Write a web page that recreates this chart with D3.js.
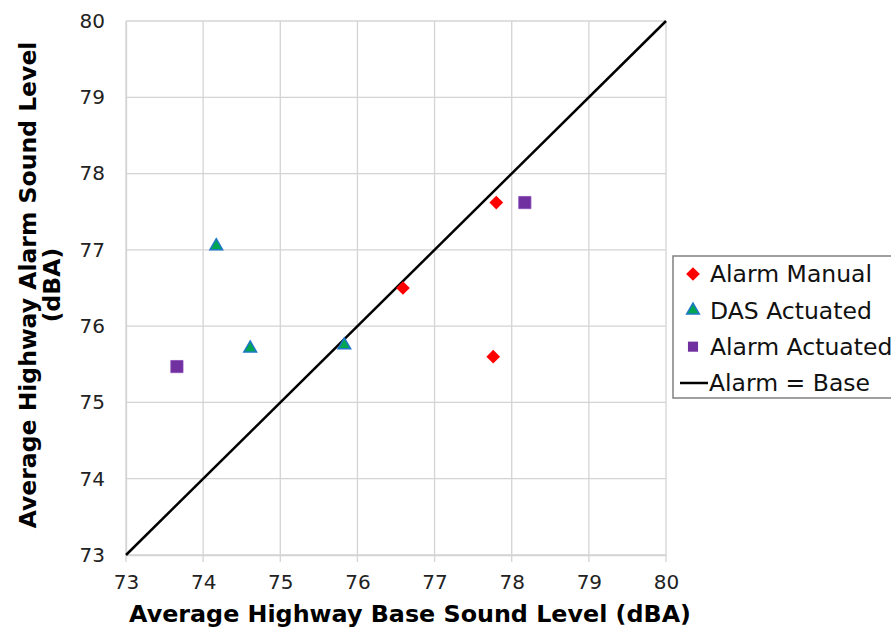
<!DOCTYPE html>
<html>
<head>
    <script src="https://d3js.org/d3.v7.min.js"></script>
</head>
<body style="margin:0; background-color: white;">
<div id="chart"></div>
<script>
    // data
    var alarmManual = [[76.59, 76.50], [77.80, 77.62], [77.76, 75.60]];
    var dasActuated = [[74.17, 77.05], [74.61, 75.71], [75.83, 75.75]];
    var alarmActuated = [[73.66, 75.47], [78.17, 77.62]];
    var diagonal = [[73, 73], [80, 80]];
    var ticks = [73, 74, 75, 76, 77, 78, 79, 80];
    var legendNames = ["Alarm Manual", "DAS Actuated", "Alarm Actuated", "Alarm = Base"];

    var margin = {top: 21, right: 225, bottom: 74, left: 126},
        width = 891 - margin.left - margin.right,
        height = 629 - margin.top - margin.bottom;

    var svg = d3.select("#chart")
        .append("svg")
        .attr("width", 891)
        .attr("height", 629)
        .style("font-family", "'DejaVu Sans', Verdana, sans-serif");

    var g = svg.append("g")
        .attr("transform", "translate(" + margin.left + "," + margin.top + ")");

    var x = d3.scaleLinear().domain([73, 80]).range([0, width]);
    var y = d3.scaleLinear().domain([73, 80]).range([height, 0]);

    // grid
    g.selectAll(".vgrid").data(ticks).enter().append("line")
        .attr("x1", d => x(d)).attr("x2", d => x(d))
        .attr("y1", 0).attr("y2", height + 7)
        .attr("stroke", "#d4d4d4").attr("stroke-width", 1.3);
    g.selectAll(".hgrid").data(ticks).enter().append("line")
        .attr("x1", 0).attr("x2", width)
        .attr("y1", d => y(d)).attr("y2", d => y(d))
        .attr("stroke", "#d4d4d4").attr("stroke-width", 1.3);

    // axes
    var xAxis = g.append("g")
        .attr("transform", "translate(0," + height + ")")
        .call(d3.axisBottom(x).tickValues(ticks).tickFormat(d3.format("d")).tickSize(0).tickPadding(20));
    var yAxis = g.append("g")
        .call(d3.axisLeft(y).tickValues(ticks).tickFormat(d3.format("d")).tickSize(0).tickPadding(21));
    [xAxis, yAxis].forEach(function(a) {
        a.select(".domain").attr("stroke", "#d4d4d4").attr("stroke-width", 1.3);
        a.selectAll("text")
            .style("font-family", "'DejaVu Sans', Verdana, sans-serif")
            .style("font-size", "20px")
            .attr("fill", "#222");
    });

    // Alarm = Base line
    g.append("path")
        .datum(diagonal)
        .attr("d", d3.line().x(d => x(d[0])).y(d => y(d[1])))
        .attr("stroke", "black").attr("stroke-width", 2.5).attr("fill", "none");

    var sym = {
        diamond: d3.symbol().type(d3.symbolDiamond2).size(120),
        triangle: d3.symbol().type(d3.symbolTriangle2).size(115),
        square: d3.symbol().type(d3.symbolSquare2).size(190)
    };

    g.selectAll(".man").data(alarmManual).enter().append("path")
        .attr("d", sym.diamond)
        .attr("transform", d => "translate(" + x(d[0]) + "," + y(d[1]) + ")")
        .attr("fill", "#ff0000");
    g.selectAll(".das").data(dasActuated).enter().append("path")
        .attr("d", sym.triangle)
        .attr("transform", d => "translate(" + x(d[0]) + "," + y(d[1]) + ")")
        .attr("fill", "#00a651").attr("stroke", "#1f77c8").attr("stroke-width", 1.5);
    g.selectAll(".act").data(alarmActuated).enter().append("path")
        .attr("d", sym.square)
        .attr("transform", d => "translate(" + x(d[0]) + "," + y(d[1]) + ")")
        .attr("fill", "#7030a0").attr("stroke", "#8a4ab8").attr("stroke-width", 0.8);

    // axis titles
    svg.append("text")
        .attr("x", 410).attr("y", 622)
        .attr("text-anchor", "middle")
        .style("font-size", "23.8px").style("font-weight", "bold")
        .text("Average Highway Base Sound Level (dBA)");
    var yt = svg.append("text")
        .attr("transform", "translate(36," + 285 + ") rotate(-90)")
        .attr("text-anchor", "middle")
        .style("font-size", "23.5px").style("font-weight", "bold");
    yt.append("tspan").attr("x", 0).attr("dy", 0).text("Average Highway Alarm Sound Level");
    yt.append("tspan").attr("x", 0).attr("dy", 24).text("(dBA)");

    // legend
    var lg = svg.append("g").attr("transform", "translate(673,256)");
    lg.append("rect").attr("width", 240).attr("height", 142)
        .attr("fill", "white").attr("stroke", "#808080").attr("stroke-width", 1.5);
    var ly = d3.scalePoint().domain(legendNames).range([18, 127]);
    lg.append("path").attr("d", sym.diamond)
        .attr("transform", "translate(20," + ly(legendNames[0]) + ")").attr("fill", "#ff0000");
    lg.append("path").attr("d", sym.triangle)
        .attr("transform", "translate(20," + ly(legendNames[1]) + ")")
        .attr("fill", "#00a651").attr("stroke", "#1f77c8").attr("stroke-width", 1.5);
    lg.append("path").attr("d", d3.symbol().type(d3.symbolSquare2).size(130))
        .attr("transform", "translate(20," + ly(legendNames[2]) + ")").attr("fill", "#7030a0");
    lg.append("line").attr("x1", 7).attr("x2", 35)
        .attr("y1", ly(legendNames[3])).attr("y2", ly(legendNames[3]))
        .attr("stroke", "black").attr("stroke-width", 2.5);
    lg.selectAll(".lt").data(legendNames).enter().append("text")
        .attr("x", d => d === "Alarm = Base" ? 36 : 37)
        .attr("y", d => ly(d))
        .attr("dy", "0.35em")
        .style("font-size", "23.5px")
        .attr("fill", "#111")
        .text(d => d);
</script>
</body>
</html>
